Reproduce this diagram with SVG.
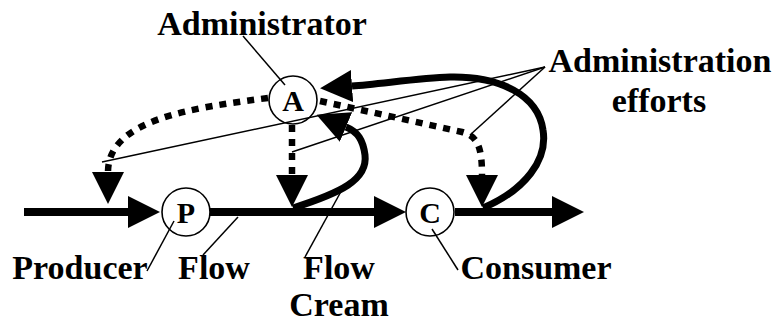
<svg xmlns="http://www.w3.org/2000/svg" width="773" height="323" viewBox="0 0 773 323">
<style>
.lbl{font-family:"Liberation Serif","Times New Roman",serif;font-weight:bold;font-size:34px;fill:#000;text-anchor:middle}
.nl{font-family:"Liberation Serif","Times New Roman",serif;font-weight:bold;font-size:30px;fill:#000;text-anchor:middle}
.node{fill:#fff;stroke:#000;stroke-width:1.6}
.flow{fill:none;stroke:#000;stroke-width:8;marker-end:url(#ah)}
.cream{fill:none;stroke:#000;stroke-width:7;marker-end:url(#ah)}
.adm{fill:none;stroke:#000;stroke-width:6.5;stroke-dasharray:7 7;marker-end:url(#ah)}
.lead{fill:none;stroke:#000;stroke-width:1.5}
</style>
<defs>
<marker id="ah" viewBox="0 -16 32 32" refX="0" refY="0" markerWidth="32" markerHeight="32" markerUnits="userSpaceOnUse" orient="auto">
<path d="M0,-16 L32,0 L0,16 z" fill="#000"/>
</marker>
</defs>
<rect width="773" height="323" fill="#fff"/>
<g id="connectors">
<path class="flow" d="M24 212 L128 212"/>
<path class="flow" d="M210 212 L374 212"/>
<path class="flow" d="M455 212 L552 212"/>
<path class="adm" d="M268 98 C190 108 108 120 108 172"/>
<path class="adm" d="M292 125 L292 175"/>
<path class="adm" d="M320 101 L462 132 C478 136 482 148 482 175"/>
<path class="cream" d="M293 208 C340 193 368 180 365 155 C363 140 358 132 346 127"/>
<path class="cream" d="M483 208 C525 190 548 160 543 130 C538 95 500 76 450 77 C420 78 380 84 352 86"/>
</g>
<g id="node-A">
<circle class="node" cx="293" cy="100" r="24"/>
<text class="nl" x="293" y="111">A</text>
</g>
<g id="node-P">
<circle class="node" cx="186" cy="212" r="24"/>
<text class="nl" x="186" y="223">P</text>
</g>
<g id="node-C">
<circle class="node" cx="430" cy="212" r="24"/>
<text class="nl" x="430" y="223">C</text>
</g>
<g id="leaders">
<line class="lead" x1="243" y1="36" x2="285" y2="85"/>
<line class="lead" x1="545" y1="67" x2="102" y2="162" stroke-width="1"/>
<line class="lead" x1="545" y1="67" x2="292" y2="152"/>
<line class="lead" x1="545" y1="67" x2="470" y2="135"/>
<line class="lead" x1="147" y1="271" x2="174" y2="221"/>
<line class="lead" x1="203" y1="255" x2="238" y2="217"/>
<line class="lead" x1="305" y1="257" x2="344" y2="186"/>
<line class="lead" x1="432" y1="229" x2="458" y2="270"/>
</g>
<g id="labels">
<text class="lbl" x="262" y="35">Administrator</text>
<text class="lbl" x="660" y="72">Administration</text>
<text class="lbl" x="659" y="112">efforts</text>
<text class="lbl" x="80" y="279">Producer</text>
<text class="lbl" x="214" y="279">Flow</text>
<text class="lbl" x="339" y="279">Flow</text>
<text class="lbl" x="339" y="316">Cream</text>
<text class="lbl" x="536" y="279">Consumer</text>
</g>
</svg>
